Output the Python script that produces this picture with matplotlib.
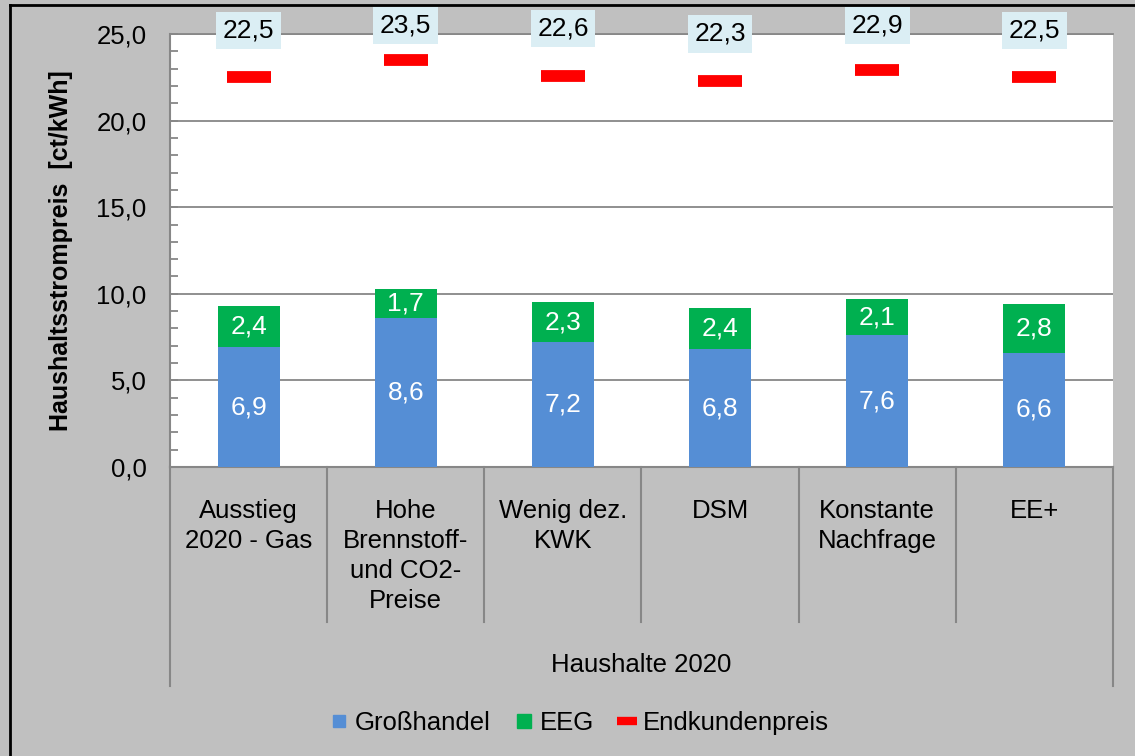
import numpy as np
import matplotlib
matplotlib.use("Agg")
import matplotlib.pyplot as plt
from matplotlib.lines import Line2D

plt.rcParams['font.family'] = ['Liberation Sans', 'DejaVu Sans']

# data
categories = ["Ausstieg\n2020 - Gas", "Hohe\nBrennstoff-\nund CO2-\nPreise", "Wenig dez.\nKWK",
              "DSM", "Konstante\nNachfrage", "EE+"]
grosshandel = [6.9, 8.6, 7.2, 6.8, 7.6, 6.6]
eeg = [2.4, 1.7, 2.3, 2.4, 2.1, 2.8]
endkundenpreis = [22.5, 23.5, 22.6, 22.3, 22.9, 22.5]
group_label = "Haushalte 2020"
y_label = "Haushaltsstrompreis  [ct/kWh]"

BLUE = '#558ED5'
GREEN = '#00B050'
RED = '#FF0000'
GREY_BG = '#C0C0C0'
LINE = '#878787'

def fmt(v):
    return f"{v:.1f}".replace('.', ',')

W, H = 1135, 756
fig = plt.figure(figsize=(W / 100, H / 100), dpi=100, facecolor=GREY_BG)
ax = fig.add_axes([170 / W, 1 - 467 / H, 943 / W, 433 / H])
ax.set_facecolor('white')

x = np.arange(len(categories))
bw = 0.395
ax.bar(x, grosshandel, bw, color=BLUE, zorder=3)
ax.bar(x, eeg, bw, bottom=grosshandel, color=GREEN, zorder=3)
ax.plot(x, endkundenpreis, linestyle='none', marker='_', ms=32, mew=8.5,
        color=RED, zorder=4)

# value labels
for i in range(len(x)):
    ax.text(x[i], grosshandel[i] / 2, fmt(grosshandel[i]), ha='center', va='center',
            color='white', fontsize=19, zorder=5)
    ax.text(x[i], grosshandel[i] + eeg[i] / 2, fmt(eeg[i]), ha='center', va='center',
            color='white', fontsize=19, zorder=5)
    ylab = min(endkundenpreis[i] + 2.7, 25.5)
    ax.text(x[i], ylab, fmt(endkundenpreis[i]), ha='center', va='center', fontsize=19,
            zorder=6, clip_on=False,
            bbox=dict(boxstyle='square,pad=0.25', facecolor='#DBEEF4', edgecolor='none'))

ax.set_xlim(-0.5, len(x) - 0.5)
ax.set_ylim(0, 25)
ax.set_yticks(np.arange(0, 26, 5))
ax.set_yticks(np.arange(0, 26, 1), minor=True)
ax.set_yticklabels([fmt(v) for v in np.arange(0, 26, 5)], fontsize=18.5)
ax.tick_params(axis='y', which='both', direction='in', length=6, width=1.3,
               color=LINE, pad=17)
ax.set_xticks([])
ax.grid(axis='y', color=LINE, linewidth=1.3, zorder=1)
for s in ['top', 'right']:
    ax.spines[s].set_visible(False)
ax.spines['left'].set_color(LINE)
ax.spines['left'].set_linewidth(1.5)
ax.spines['bottom'].set_color(LINE)
ax.spines['bottom'].set_linewidth(1.5)
ax.axhline(25, color=LINE, linewidth=1.3, zorder=1, clip_on=False)

# category axis below the plot
trans = ax.get_xaxis_transform()
for b in np.arange(-0.5, len(x), 1.0):
    low = -0.506 if b in (-0.5, len(x) - 0.5) else -0.358
    ax.plot([b, b], [0, low], transform=trans, color=LINE, linewidth=1.5, clip_on=False)
for i, c in enumerate(categories):
    ax.text(x[i], -0.075, c, transform=trans, ha='center', va='top', fontsize=18.5,
            linespacing=1.3)
ax.text((len(x) - 1) / 2, -0.457, group_label, transform=trans, ha='center', va='center',
        fontsize=18.5)

fig.text(61 / W, 1 - 251 / H, y_label, rotation=90, ha='center', va='center',
         fontsize=18, fontweight='bold')

# legend
handles = [Line2D([], [], linestyle='none', marker='s', ms=9, color=BLUE),
           Line2D([], [], linestyle='none', marker='s', ms=10, color=GREEN),
           Line2D([], [], linestyle='none', marker='_', ms=15, mew=6, color=RED)]
fig.legend(handles, ['Großhandel', 'EEG', 'Endkundenpreis'], loc='center',
           bbox_to_anchor=(580 / W, 1 - 723 / H), ncol=3, frameon=False, fontsize=18.5,
           handlelength=0.6, handletextpad=0.3, columnspacing=1.0)

# outer border
fig.add_artist(Line2D([10 / W, 10 / W], [0, 1 - 5 / H], transform=fig.transFigure,
                      color='black', linewidth=2))
fig.add_artist(Line2D([10 / W, 1], [1 - 5 / H, 1 - 5 / H], transform=fig.transFigure,
                      color='black', linewidth=2))

fig.savefig('out.png', dpi=100, facecolor=GREY_BG)
